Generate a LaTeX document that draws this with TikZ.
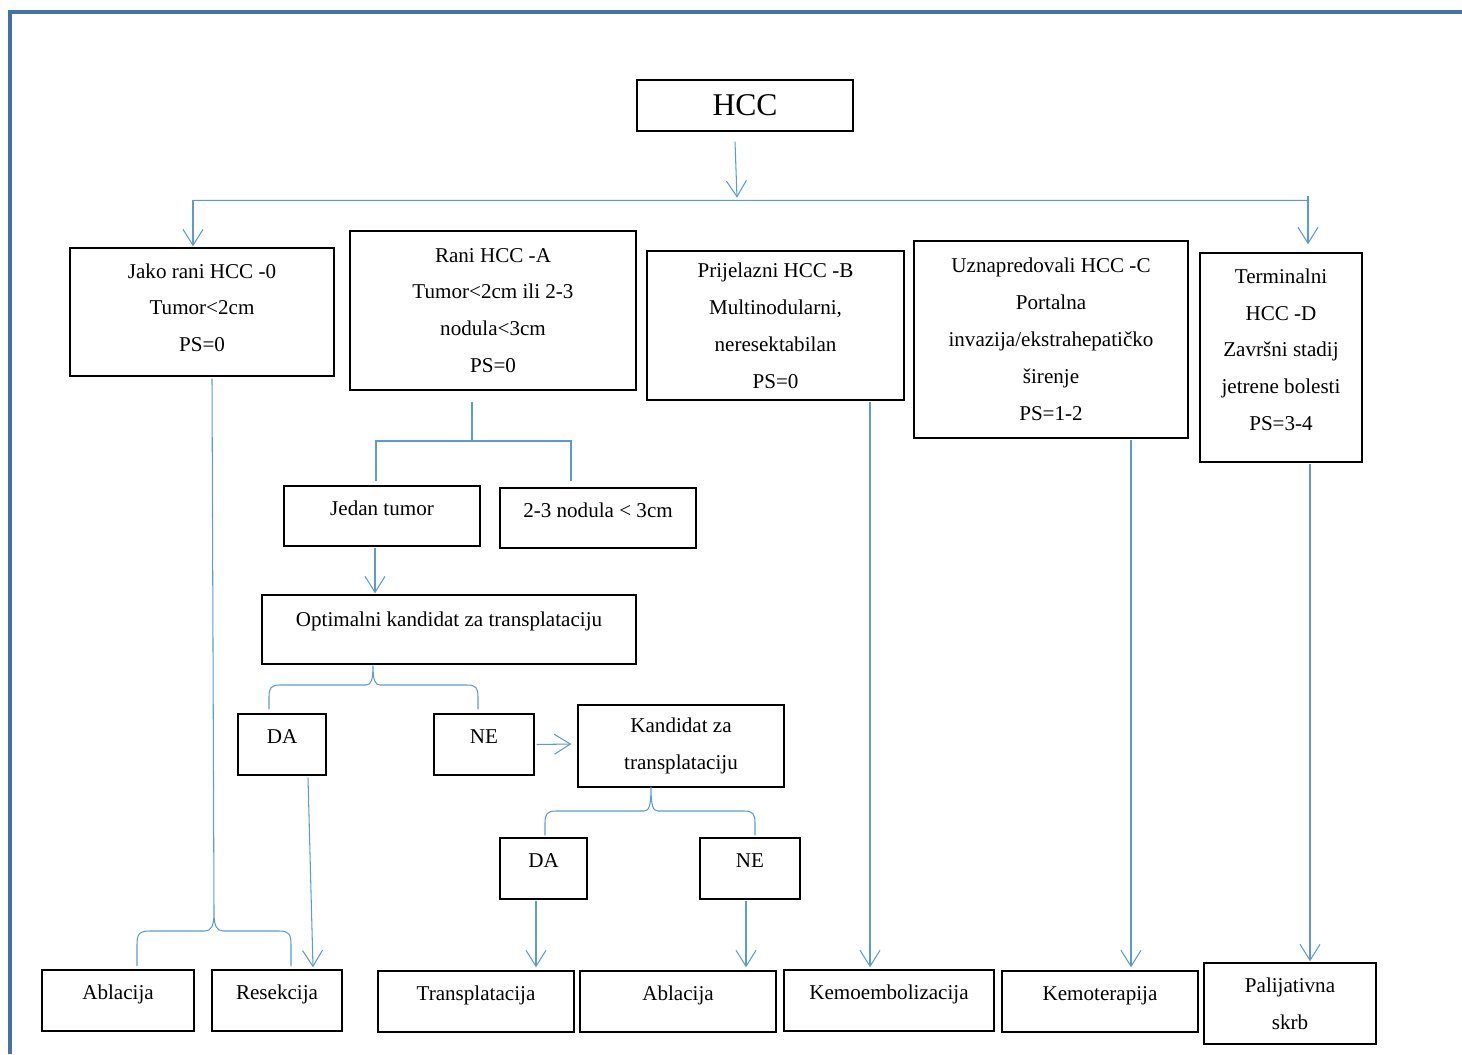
\documentclass[tikz,border=0pt]{standalone}
\usepackage{fontspec}
\setmainfont{Liberation Serif}
\usetikzlibrary{arrows.meta,calc}
\definecolor{lineblue}{RGB}{91,155,213}
\definecolor{frameblue}{RGB}{68,114,166}

\begin{document}
\begin{tikzpicture}[x=0.02cm,y=-0.02cm]
    \tikzstyle{box}=[rectangle,draw=black,line width=0.8pt,align=center,inner sep=2pt,font=\fontsize{12pt}{21pt}\selectfont]
    \tikzstyle{one}=[box,text height=9pt,text depth=10pt]
    \tikzstyle{conn}=[draw=lineblue,line width=0.6pt]
    \tikzstyle{arr}=[conn,-{Straight Barb[length=0.32cm,width=0.4cm]}]
    \useasboundingbox (0,0) rectangle (1462,1054);
    \draw[frameblue,line width=2pt] (10,1054) -- (10,12) -- (1462,12);
    % stages
    \node[box,minimum width=4.32cm,minimum height=1.02cm,font=\fontsize{18pt}{22pt}\selectfont] (hcc) at (745,105.5) {HCC};
    \node[box,minimum width=5.28cm,minimum height=2.56cm,text depth=5pt] (jako) at (202,312) {Jako rani HCC -0\\Tumor<2cm\\PS=0};
    \node[box,minimum width=5.72cm,minimum height=3.18cm] (rani) at (493,310.5) {Rani HCC -A\\Tumor<2cm ili 2-3\\nodula<3cm\\PS=0};
    \node[box,minimum width=5.14cm,minimum height=2.98cm] (prij) at (775.5,325.5) {Prijelazni HCC -B\\Multinodularni,\\neresektabilan\\PS=0};
    \node[box,minimum width=5.48cm,minimum height=3.94cm] (uzn) at (1051,339.5) {Uznapredovali HCC -C\\Portalna\\invazija/ekstrahepatičko\\širenje\\PS=1-2};
    \node[box,minimum width=3.24cm,minimum height=4.18cm,text depth=9pt] (term) at (1281,357.5) {Terminalni\\HCC -D\\Završni stadij\\jetrene bolesti\\PS=3-4};
    % early stage branch
    \node[one,minimum width=3.92cm,minimum height=1.2cm] (jedan) at (382,516) {Jedan tumor};
    \node[one,minimum width=3.92cm,minimum height=1.2cm] (nod) at (598,518) {2-3 nodula < 3cm};
    \node[one,minimum width=7.48cm,minimum height=1.38cm,text depth=12pt] (opt) at (449,629.5) {Optimalni kandidat za transplataciju};
    \node[one,minimum width=1.76cm,minimum height=1.22cm] (da1) at (282,744.5) {DA};
    \node[one,minimum width=2cm,minimum height=1.22cm] (ne1) at (484,744.5) {NE};
    \node[box,minimum width=4.12cm,minimum height=1.64cm] (kand) at (681,746) {Kandidat za\\transplataciju};
    \node[one,minimum width=1.74cm,minimum height=1.22cm] (da2) at (543.5,868.5) {DA};
    \node[one,minimum width=2cm,minimum height=1.22cm] (ne2) at (750,868.5) {NE};
    % treatments
    \node[one,minimum width=3.04cm,minimum height=1.22cm] (abl1) at (118,1000.5) {Ablacija};
    \node[one,minimum width=2.6cm,minimum height=1.22cm] (res) at (277,1000.5) {Resekcija};
    \node[one,minimum width=3.92cm,minimum height=1.22cm] (trans) at (476,1001.5) {Transplatacija};
    \node[one,minimum width=3.92cm,minimum height=1.22cm] (abl2) at (678,1001.5) {Ablacija};
    \node[one,minimum width=4.2cm,minimum height=1.22cm] (kemb) at (889,1000.5) {Kemoembolizacija};
    \node[one,minimum width=3.92cm,minimum height=1.22cm] (kter) at (1100,1001.5) {Kemoterapija};
    \node[box,minimum width=3.44cm,minimum height=1.62cm] (pal) at (1290,1003.5) {Palijativna\\skrb};
    % top split
    \coordinate (l) at ($(jako.north)+(-9,-47)$);
    \coordinate (r) at ($(term.north)+(27,-52)$);
    \draw[arr] ($(hcc.south)+(-10,10)$) -- ($(hcc.south)+(-8,66)$);
    \draw[conn] (l) -- (r);
    \draw[arr] (l) -- ($(jako.north)+(-9,-1)$);
    \draw[arr] ($(r)+(0,-4)$) -- ($(term.north)+(27,-8)$);
    % very early
    \coordinate (c1) at (214,913);
    \draw[conn] ($(jako.south)+(10,2)$) -- (c1);
    \draw[conn] (137,966) -- (137,945) .. controls (137,934) and (139,931) .. (150,931) -- (205,931) .. controls (211,931) and (214,926) .. (c1) .. controls (214,926) and (217,931) .. (223,931) -- (279,931) .. controls (289,931) and (291,934) .. (291,945) -- (291,966);
    % early
    \draw[conn] ($(rani.south)+(-21,11)$) -- (472,441);
    \draw[conn] ($(jedan.north)+(-6,-4)$) -- (376,441) -- (571,441) -- ($(nod.north)+(-27,-6)$);
    \draw[arr] ($(jedan.south)+(-7,1)$) -- ($(opt.north)+(-74,-1)$);
    \coordinate (c2) at ($(opt.south)+(-76,1)$);
    \draw[conn] ($(da1.north)+(-13,-4)$) -- (269,697) .. controls (269,688) and (271,685) .. (280,685) -- (366,685) .. controls (371,685) and (373,680) .. (c2) .. controls (373,680) and (375,685) .. (380,685) -- (467,685) .. controls (476,685) and (478,688) .. (478,697) -- ($(ne1.north)+(-6,-4)$);
    \draw[arr] ($(da1.south)+(26,2)$) -- ($(res.north)+(36,-2)$);
    \draw[arr] ($(ne1.east)+(2,0)$) -- ($(kand.west)+(-6,-2)$);
    \coordinate (c3) at ($(kand.south)+(-30,-1)$);
    \draw[conn] ($(da2.north)+(1.5,-2)$) -- (545,823) .. controls (545,814) and (547,811) .. (556,811) -- (644,811) .. controls (649,811) and (651,806) .. (c3) .. controls (651,806) and (653,811) .. (658,811) -- (744,811) .. controls (753,811) and (755,814) .. (755,823) -- ($(ne2.north)+(5,-2)$);
    \draw[arr] ($(da2.south)+(-7.5,1)$) -- ($(trans.north)+(60,-3)$);
    \draw[arr] ($(ne2.south)+(-4,1)$) -- ($(abl2.north)+(68,-3)$);
    % intermediate, advanced, terminal
    \draw[arr] ($(prij.south)+(94.5,1)$) -- ($(kemb.north)+(-19,-2)$);
    \draw[arr] ($(uzn.south)+(80,1)$) -- ($(kter.north)+(31,-3)$);
    \draw[arr] ($(term.south)+(29,1)$) -- ($(pal.north)+(20,-1)$);
\end{tikzpicture}
\end{document}
